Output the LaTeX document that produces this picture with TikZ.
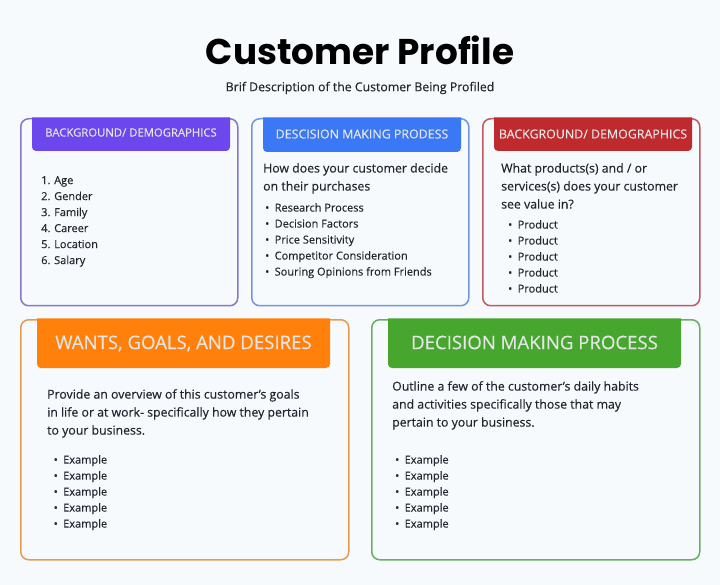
\documentclass[tikz,border=0pt]{standalone}
\usepackage{fontspec}
\setmainfont[RawFeature={embolden=0.3}]{Open Sans}
\newfontfamily\titlefont{Poppins}
\usetikzlibrary{positioning}
\definecolor{pagebg}{HTML}{F7FAFD}
\definecolor{bodytext}{HTML}{22262E}
\definecolor{purplehead}{HTML}{6D47EE}
\definecolor{purpleline}{HTML}{8577CC}
\definecolor{bluehead}{HTML}{3B78F5}
\definecolor{blueline}{HTML}{6F95DE}
\definecolor{redhead}{HTML}{BE2A2E}
\definecolor{redline}{HTML}{BD5A62}
\definecolor{orangehead}{HTML}{FF800B}
\definecolor{orangeline}{HTML}{E59C50}
\definecolor{greenhead}{HTML}{46A62E}
\definecolor{greenline}{HTML}{69AE62}
\newcommand{\itemdot}{\makebox[9.5pt][l]{\textbullet}}
\newcommand{\itemnum}[1]{\makebox[13pt][l]{#1.}}
\tikzset{%
  mycard/.style={draw, line width=1.5pt, rounded corners=8pt, fill=pagebg, anchor=north west, inner sep=0pt},
  smallcard/.style={mycard, minimum width=217pt, minimum height=187pt},
  bigcard/.style={mycard, minimum width=328pt, minimum height=240pt},
  myhead/.style={anchor=center, inner sep=0pt, text=white!90!black},
  smallhead/.style={myhead, font=\fontsize{12.4}{14}\selectfont},
  bighead/.style={myhead, font=\fontsize{18.6}{20}\selectfont},
  mytext/.style={anchor=north west, inner sep=0pt, align=left, text=bodytext, font=\fontsize{12.3}{18}\selectfont},
  mylist/.style={anchor=north west, inner sep=0pt, align=left, text=bodytext, font=\fontsize{11}{16}\selectfont}
}

\begin{document}
\begin{tikzpicture}[x=1pt, y=-1pt]

  \fill[pagebg] (0,0) rectangle (720,585);
  \useasboundingbox (0,0) rectangle (720,585);

  \node[font=\titlefont\bfseries\fontsize{35.8}{40}\selectfont, text=black] (title) at (360,50) {Customer Profile};
  \node[font=\fontsize{12.3}{14}\selectfont, text=bodytext] (subtitle) at (360,88) {Brif Description of the Customer Being Profiled};

  % top row
  \node[smallcard, draw=purpleline] (cardA) at (20,118) {};
  \node[smallcard, draw=blueline] (cardB) at (251,118) {};
  \node[smallcard, draw=redline] (cardC) at (482,118) {};

  \fill[purplehead] (32,117.3) [rounded corners=4pt] -- (32,151) -- (230,151) -- (230,130) [sharp corners] -- (230,117.3) -- cycle;
  \fill[bluehead] (263,117.3) [rounded corners=4pt] -- (263,152) -- (461,152) -- (461,130) [sharp corners] -- (461,117.3) -- cycle;
  \fill[redhead] (494,117.3) [rounded corners=4pt] -- (494,151) -- (692,151) -- (692,130) [sharp corners] -- (692,117.3) -- cycle;

  \node[smallhead, font=\fontsize{11.3}{14}\selectfont] (headA) at (131,132.5) {BACKGROUND/ DEMOGRAPHICS};
  \node[smallhead] (headB) at (362,134) {DESCISION MAKING PRODESS};
  \node[smallhead] (headC) at (593,134) {BACKGROUND/ DEMOGRAPHICS};

  \node[mylist] (listA) at (41,176) {\itemnum{1}Age\\\itemnum{2}Gender\\\itemnum{3}Family\\\itemnum{4}Career\\\itemnum{5}Location\\\itemnum{6}Salary};

  \node[mytext] (textB) at (263,163) {How does your customer decide\\on their purchases};
  \node[mylist] (listB) at (265,203) {\itemdot Research Process\\\itemdot Decision Factors\\\itemdot Price Sensitivity\\\itemdot Competitor Consideration\\\itemdot Souring Opinions from Friends};

  \node[mytext] (textC) at (501,163) {What products(s) and / or\\services(s) does your customer\\see value in?};
  \node[mylist] (listC) at (508,220) {\itemdot Product\\\itemdot Product\\\itemdot Product\\\itemdot Product\\\itemdot Product};

  % bottom row
  \node[bigcard, draw=orangeline] (cardD) at (20,319) {};
  \node[bigcard, draw=greenline] (cardE) at (371,319) {};

  \fill[orangehead] (37,318.3) [rounded corners=4pt] -- (37,368) -- (330,368) -- (330,340) [sharp corners] -- (330,318.3) -- cycle;
  \fill[greenhead] (388,318.3) [rounded corners=4pt] -- (388,368) -- (681,368) -- (681,340) [sharp corners] -- (681,318.3) -- cycle;

  \node[bighead] (headD) at (183.5,343.5) {WANTS, GOALS, AND DESIRES};
  \node[bighead] (headE) at (534.5,342.5) {DECISION MAKING PROCESS};

  \node[mytext] (textD) at (47,389) {Provide an overview of this customer's goals\\in life or at work- specifically how they pertain\\to your business.};
  \node[mylist] (listD) at (53.5,455) {\itemdot Example\\\itemdot Example\\\itemdot Example\\\itemdot Example\\\itemdot Example};

  \node[mytext] (textE) at (392,381) {Outline a few of the customer's daily habits\\and activities specifically those that may\\pertain to your business.};
  \node[mylist] (listE) at (395,455) {\itemdot Example\\\itemdot Example\\\itemdot Example\\\itemdot Example\\\itemdot Example};
\end{tikzpicture}
\end{document}
